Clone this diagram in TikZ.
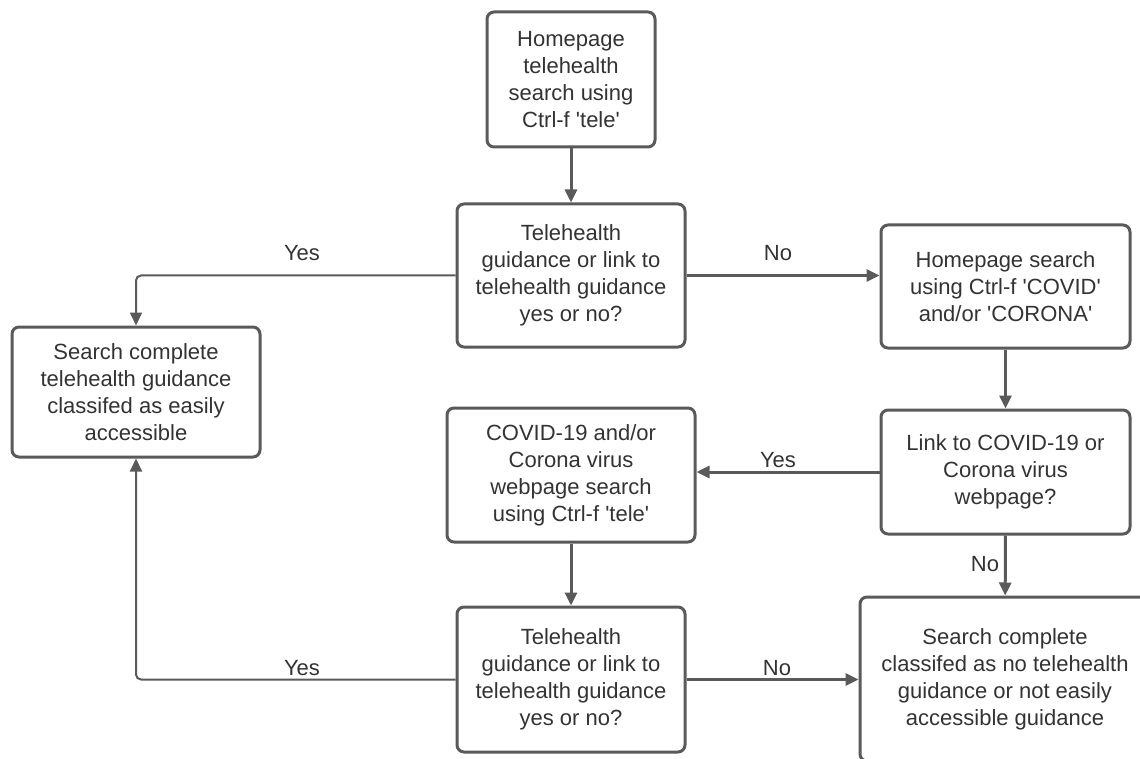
\documentclass[tikz,border=0pt]{standalone}
\usepackage{fontspec}
\setmainfont{Liberation Sans}
\usepackage{xcolor}
\usetikzlibrary{arrows.meta}
\definecolor{boxline}{HTML}{5A5A5A}
\definecolor{boxtext}{HTML}{333333}
\newcommand{\sq}{\textquotesingle}

\begin{document}
\begin{tikzpicture}[x=1pt, y=-1pt,
  stepbox/.style={draw=boxline, line width=3pt, rounded corners=7pt, fill=white,
    align=center, text=boxtext, inner sep=0pt,
    font=\fontsize{22}{27}\selectfont},
  flow/.style={draw=boxline, line width=3pt, rounded corners=5pt,
    -{Triangle[length=13pt,width=12pt]}},
  thinflow/.style={flow, line width=2pt},
  lbl/.style={text=boxtext, font=\fontsize{22}{27}\selectfont}]
\useasboundingbox (0,0) rectangle (1140,759);
\clip (0,0) rectangle (1140,759);
\fill[white] (0,0) rectangle (1140,759);
% boxes
\node[stepbox, minimum width=168pt, minimum height=135pt] (home) at (571,79.5)
  {Homepage\\telehealth\\search using\\Ctrl-f \sq tele\sq};
\node[stepbox, minimum width=228pt, minimum height=143pt] (ask1) at (571,275.5)
  {Telehealth\\guidance or link to\\telehealth guidance\\yes or no?};
\node[stepbox, minimum width=249pt, minimum height=123pt] (covid) at (1005.5,286.5)
  {Homepage search\\using Ctrl-f \sq COVID\sq\\and/or \sq CORONA\sq};
\node[stepbox, minimum width=248pt, minimum height=130pt] (easy) at (136,392)
  {Search complete\\telehealth guidance\\classifed as easily\\accessible};
\node[stepbox, minimum width=249pt, minimum height=124pt] (link) at (1005.5,472)
  {Link to COVID-19 or\\Corona virus\\webpage?};
\node[stepbox, minimum width=248pt, minimum height=134pt] (page) at (571,475)
  {COVID-19 and/or\\Corona virus\\webpage search\\using Ctrl-f \sq tele\sq};
\node[stepbox, minimum width=228pt, minimum height=145pt] (ask2) at (571,679.5)
  {Telehealth\\guidance or link to\\telehealth guidance\\yes or no?};
\node[stepbox, minimum width=290pt, minimum height=164pt] (none) at (1005,679)
  {Search complete\\classifed as no telehealth\\guidance or not easily\\accessible guidance};
% connectors
\draw[flow] (home) -- (ask1);
\draw[thinflow] (ask1.west) -| (easy.north);
\draw[flow] (ask1.east) -- (ask1.east -| covid.west);
\draw[flow] (covid) -- (link);
\draw[flow] (link.west) -- (link.west -| page.east);
\draw[flow] (page) -- (ask2);
\draw[flow] (link) -- (none);
\draw[flow] (ask2.east) -- (ask2.east -| none.west);
\draw[thinflow] (ask2.west) -| (easy.south);
% labels
\node[lbl] (yes1) at (302,253) {Yes};
\node[lbl] (no1) at (778,253) {No};
\node[lbl] (yes2) at (778,460) {Yes};
\node[lbl] (no2) at (985,564) {No};
\node[lbl] (yes3) at (302,668) {Yes};
\node[lbl] (no3) at (777,668) {No};
\end{tikzpicture}
\end{document}
